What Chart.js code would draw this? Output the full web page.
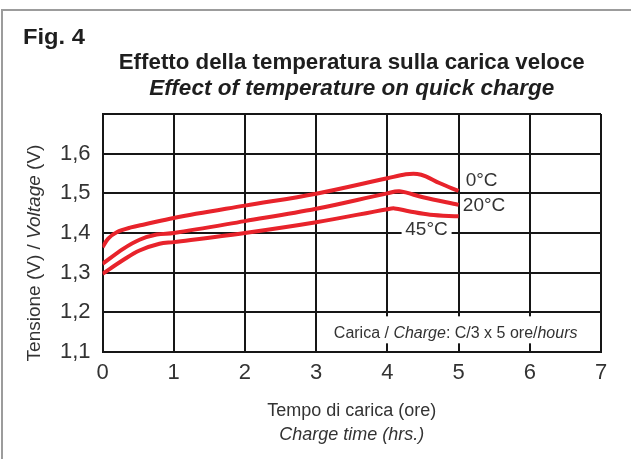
<!DOCTYPE html>
<html>
<head>
<meta charset="utf-8">
<script src="https://cdn.jsdelivr.net/npm/chart.js@4.4.1/dist/chart.umd.min.js"></script>
<style>
  html, body { margin: 0; padding: 0; background: #fff; overflow: hidden; }
  #frame { position: absolute; left: 1px; top: 9px; right: -10px; bottom: -10px;
           border-left: 2px solid #9c9c9c; border-top: 2px solid #9c9c9c; }
  #wrap { position: absolute; left: 0; top: 0; width: 631px; height: 459px; }
</style>
</head>
<body>
<div id="frame"></div>
<div id="wrap"><canvas id="chart" width="631" height="459"></canvas></div>
<script>
// Fig. 4 - effetto della temperatura sulla carica veloce

const xTicks = [0, 1, 2, 3, 4, 5, 6, 7];
const yTicks = [1.1, 1.2, 1.3, 1.4, 1.5, 1.6, 1.7];

// charge time (hrs) / voltage (V) per temperature
const time0 = [0, 0.08, 0.2, 0.4, 0.6, 1, 2, 3, 4, 4.26, 4.42, 4.54, 4.73, 5];
const volt0 = [1.364, 1.386, 1.402, 1.414, 1.422, 1.438, 1.469, 1.499, 1.538, 1.548, 1.549, 1.543, 1.526, 1.506];

const time20 = [0, 0.29, 0.52, 0.76, 1, 2, 3, 4, 4.17, 4.5, 5];
const volt20 = [1.322, 1.360, 1.383, 1.396, 1.400, 1.430, 1.461, 1.500, 1.505, 1.490, 1.471];

const time45 = [0, 0.29, 0.52, 0.8, 1, 2, 3, 4, 4.1, 4.3, 4.6, 5];
const volt45 = [1.297, 1.332, 1.356, 1.373, 1.377, 1.400, 1.427, 1.460, 1.462, 1.455, 1.446, 1.442];

const seriesLabels = ['0°C', '20°C', '45°C'];

const RED = '#e8232b';
const INK = '#1e1e1e';
const GRID = '#161616';
const FONT = '"Liberation Sans", Arial, Helvetica, sans-serif';

function pts(xs, ys) {
  return xs.map((x, i) => ({ x: x, y: ys[i] }));
}

function lineSet(label, xs, ys) {
  return {
    label: label,
    data: pts(xs, ys),
    borderColor: RED,
    borderWidth: 4,
    pointRadius: 0,
    tension: 0.35,
    fill: false
  };
}

// centred text squeezed or stretched to a given width
function fitText(ctx, text, cx, y, width) {
  const w = ctx.measureText(text).width;
  ctx.save();
  ctx.translate(cx, y);
  ctx.scale(width / w, 1);
  ctx.textAlign = 'center';
  ctx.fillText(text, 0, 0);
  ctx.restore();
}

// draws text pieces with mixed styles on one line, centred on (cx, y)
function mixedText(ctx, parts, cx, y) {
  let total = 0;
  parts.forEach(p => { ctx.font = p.font; total += ctx.measureText(p.text).width; });
  let x = cx - total / 2;
  ctx.textAlign = 'left';
  parts.forEach(p => {
    ctx.font = p.font;
    ctx.fillText(p.text, x, y);
    x += ctx.measureText(p.text).width;
  });
}

const textPlugin = {
  id: 'figText',
  beforeDatasetsDraw(chart) {
    const ctx = chart.ctx;
    const xs = chart.scales.x, ys = chart.scales.y;
    ctx.save();
    // white boxes behind the note and the 45°C label
    ctx.fillStyle = '#fff';
    ctx.fillRect(xs.getPixelForValue(3) + 3, ys.getPixelForValue(1.2) + 4, xs.getPixelForValue(7) - xs.getPixelForValue(3) - 6, 27);
    ctx.fillRect(xs.getPixelForValue(4.2), ys.getPixelForValue(1.4) - 10, 50, 20);
    ctx.restore();
  },
  afterDraw(chart) {
    const ctx = chart.ctx;
    const area = chart.chartArea;
    const xs = chart.scales.x, ys = chart.scales.y;
    const cx = (area.left + area.right) / 2;
    ctx.save();
    ctx.fillStyle = INK;
    ctx.textBaseline = 'alphabetic';

    ctx.font = 'bold 22px ' + FONT;
    fitText(ctx, 'Fig. 4', 23 + 31, 44, 62);

    ctx.font = 'bold 22px ' + FONT;
    fitText(ctx, 'Effetto della temperatura sulla carica veloce', cx, 69, 466);
    ctx.font = 'italic bold 22px ' + FONT;
    fitText(ctx, 'Effect of temperature on quick charge', cx, 95, 405);

    // x axis title
    ctx.fillStyle = '#333';
    ctx.font = '18px ' + FONT;
    ctx.textAlign = 'center';
    ctx.fillText('Tempo di carica (ore)', cx, 416, 172);
    ctx.font = 'italic 18px ' + FONT;
    ctx.fillText('Charge time (hrs.)', cx, 440, 150);

    // y axis title, rotated
    ctx.save();
    ctx.translate(40, (area.top + area.bottom) / 2 + 20);
    ctx.rotate(-Math.PI / 2);
    mixedText(ctx, [
      { text: 'Tensione (V) / ', font: '19px ' + FONT },
      { text: 'Voltage', font: 'italic 19px ' + FONT },
      { text: ' (V)', font: '19px ' + FONT }
    ], 0, 0);
    ctx.restore();

    // series labels
    ctx.font = '19px ' + FONT;
    ctx.textAlign = 'left';
    ctx.textBaseline = 'middle';
    ctx.fillText(seriesLabels[0], xs.getPixelForValue(5.1), ys.getPixelForValue(1.532));
    ctx.fillText(seriesLabels[1], xs.getPixelForValue(5.06), ys.getPixelForValue(1.469));
    ctx.textAlign = 'center';
    ctx.fillText(seriesLabels[2], xs.getPixelForValue(4.55), ys.getPixelForValue(1.407));

    // charge note
    ctx.textBaseline = 'middle';
    const ny = ys.getPixelForValue(1.147);
    const right = xs.getPixelForValue(6.67);
    const parts = [
      { text: 'Carica / ', font: '16px ' + FONT },
      { text: 'Charge', font: 'italic 16px ' + FONT },
      { text: ': C/3 x 5 ore/', font: '16px ' + FONT },
      { text: 'hours', font: 'italic 16px ' + FONT }
    ];
    let w = 0;
    parts.forEach(p => { ctx.font = p.font; w += ctx.measureText(p.text).width; });
    mixedText(ctx, parts, right - w / 2, ny);
    ctx.restore();
  }
};

new Chart(document.getElementById('chart'), {
  type: 'line',
  data: {
    datasets: [
      lineSet(seriesLabels[0], time0, volt0),
      lineSet(seriesLabels[1], time20, volt20),
      lineSet(seriesLabels[2], time45, volt45)
    ]
  },
  options: {
    responsive: false,
    animation: false,
    events: [],
    layout: { padding: { left: 0, top: 114, right: 30, bottom: 67 } },
    plugins: {
      legend: { display: false },
      tooltip: { enabled: false }
    },
    scales: {
      x: {
        type: 'linear',
        min: 0,
        max: 7,
        afterFit: s => { s.height = 40; },
        afterBuildTicks: s => { s.ticks = xTicks.map(v => ({ value: v })); },
        grid: { color: GRID, lineWidth: 2, drawTicks: false },
        border: { color: GRID, width: 2 },
        ticks: {
          padding: 8,
          color: '#333',
          font: { family: FONT, size: 22 },
          callback: v => String(v)
        }
      },
      y: {
        min: 1.1,
        max: 1.7,
        afterFit: s => { s.width = 102.5; },
        afterBuildTicks: s => { s.ticks = yTicks.map(v => ({ value: v })); },
        grid: { color: GRID, lineWidth: 2, drawTicks: false },
        border: { color: GRID, width: 2 },
        ticks: {
          padding: 12,
          color: '#333',
          font: { family: FONT, size: 22 },
          callback: v => v > 1.65 ? '' : v.toFixed(1).replace('.', ',')
        }
      }
    }
  },
  plugins: [textPlugin]
});
</script>
</body>
</html>
